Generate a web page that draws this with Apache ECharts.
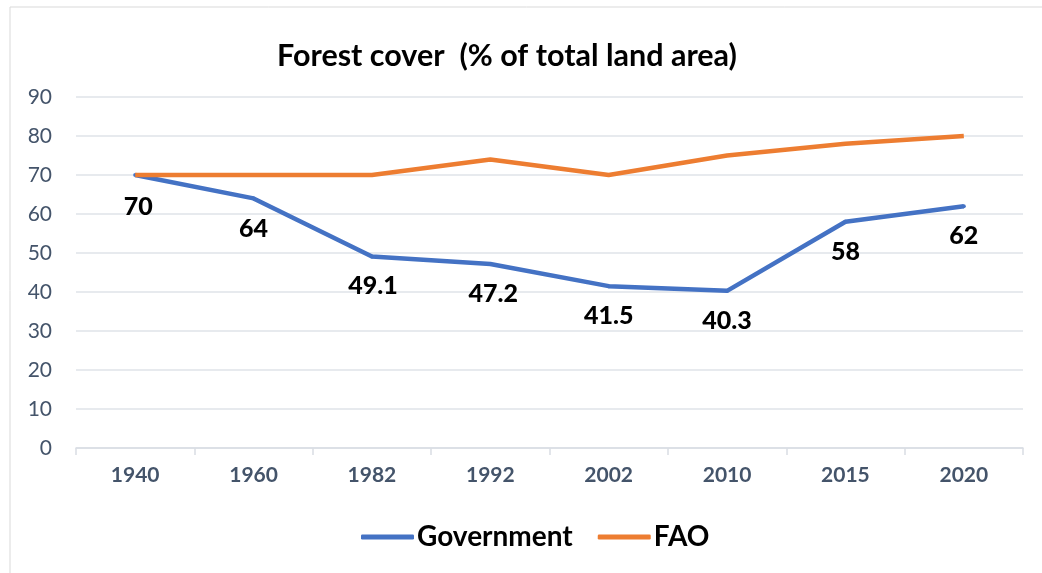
<!DOCTYPE html>
<html><head><meta charset="utf-8">
<script src="https://cdn.jsdelivr.net/npm/echarts@6/dist/echarts.min.js"></script>
<style>html,body{margin:0;padding:0;background:#fff}#c{width:1042px;height:573px}</style>
</head><body><div id="c"></div>
<script>
const categories = ['1940','1960','1982','1992','2002','2010','2015','2020'];
const government = [70, 64, 49.1, 47.2, 41.5, 40.3, 58, 62];
const fao = [70, 70, 70, 74, 70, 75, 78, 80];
const yTicks = [0, 10, 20, 30, 40, 50, 60, 70, 80, 90];

// per-point label nudges (styling only)
const labelOffsets = [[3, 3], [0, 2], [1, 1], [3, 2], [0, 1], [0, 2], [0, 2], [0, 1]];

const chart = echarts.init(document.getElementById('c'), null, {renderer: 'canvas'});
const font = 'Lato, "Open Sans", sans-serif';
chart.setOption({
  animation: false,
  backgroundColor: '#fff',
  graphic: [{type: 'rect', shape: {x: 10, y: 7, width: 1040, height: 570}, style: {fill: 'none', stroke: '#d9d9d9', lineWidth: 1}}],
  title: {
    text: 'Forest cover  (% of total land area)',
    left: 502, top: 36, textAlign: 'center',
    textStyle: {fontFamily: font, fontWeight: 'bold', fontSize: 30.5, color: '#000'}
  },
  legend: {
    bottom: 17, left: 356,
    itemWidth: 53, itemHeight: 5, itemGap: 25,
    icon: 'roundRect',
    textStyle: {fontFamily: font, fontWeight: 'bold', fontSize: 28, color: '#000', padding: [0,0,0,-2]},
    data: ['Government', 'FAO']
  },
  grid: {left: 76, right: 19, top: 97, bottom: 125, containLabel: false},
  xAxis: {
    type: 'category', data: categories, boundaryGap: true,
    axisLine: {lineStyle: {color: '#d9dde3', width: 1.5}},
    axisTick: {show: true, length: 7, lineStyle: {color: '#d9dde3', width: 1.5}},
    axisLabel: {fontFamily: font, fontWeight: 'bold', fontSize: 21, color: '#44546a', margin: 17}
  },
  yAxis: {
    type: 'value', min: yTicks[0], max: yTicks[yTicks.length-1], interval: 10,
    axisLine: {show: false}, axisTick: {show: false},
    splitLine: {lineStyle: {color: '#dfe3e8', width: 1.5}},
    axisLabel: {fontFamily: font, fontSize: 21, color: '#44546a', margin: 24}
  },
  series: [
    {
      name: 'Government', type: 'line',
      data: government.map((v, i) => ({value: v, label: {offset: labelOffsets[i]}})),
      symbol: 'circle', symbolSize: 4, showSymbol: true,
      lineStyle: {color: '#4472c4', width: 4.5}, itemStyle: {color: '#4472c4'},
      z: 2,
      label: {show: true, position: 'bottom', distance: 14, fontFamily: font, fontWeight: 900, fontSize: 25, color: '#000'}
    },
    {
      name: 'FAO', type: 'line', data: fao,
      symbol: 'none', lineStyle: {color: '#ed7d31', width: 4.5}, itemStyle: {color: '#ed7d31'},
      z: 3
    }
  ]
});
</script></body></html>
